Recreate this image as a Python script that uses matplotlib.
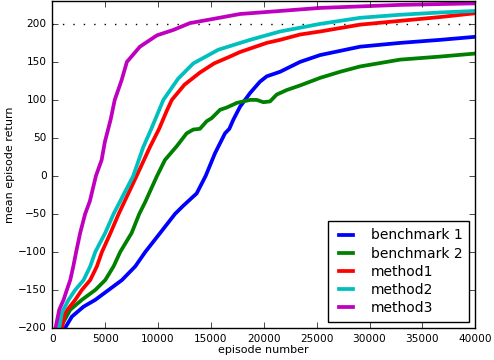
import matplotlib
matplotlib.use("Agg")
import matplotlib.pyplot as plt

plt.style.use("classic")

# values
ep_b1 = [1200, 1850, 2950, 4060, 5320, 6580, 7840, 8790, 10200, 11600, 12400, 13650,
         14500, 15390, 16330, 16740, 17120, 17750, 18700, 19640, 20280, 21540, 23430,
         25330, 29110, 32900, 36690, 40000]
ret_b1 = [-200, -185, -172, -163, -150, -137, -119, -100, -75, -50, -39, -23,
          0, 30, 56, 62, 74, 91, 109, 124, 131, 137, 150,
          159, 170, 175, 179, 183]

ep_b2 = [740, 1690, 2790, 4060, 5000, 5790, 6420, 7500, 8220, 8760, 9900, 10650,
         11760, 12700, 13330, 13960, 14600, 15070, 15860, 16500, 17440, 18060, 18700,
         19330, 19960, 20590, 21220, 22170, 23430, 25330, 27220, 29110, 32900, 36690,
         40000]
ret_b2 = [-200, -176, -163, -150, -137, -119, -100, -75, -50, -35, 0, 21,
          39, 56, 61, 62, 72, 76, 87, 90, 96, 98, 100,
          100, 97, 98, 107, 113, 119, 129, 137, 144, 153, 157,
          161]

ep_m1 = [900, 1210, 2160, 2790, 3580, 4210, 4690, 5500, 6270, 6880, 7970, 9230,
         10100, 10800, 11300, 12500, 13960, 15300, 16800, 17750, 20280, 21540, 23430,
         25330, 29110, 32900, 36690, 40000]
ret_m1 = [-200, -180, -163, -150, -137, -119, -100, -75, -50, -32, 0, 38,
          62, 85, 100, 120, 136, 148, 157, 163, 175, 179, 186,
          190, 199, 204, 209, 214]

ep_m2 = [650, 900, 1530, 2160, 2950, 3580, 4060, 5000, 5790, 7650, 8600,
         9300, 9900, 10500, 11900, 13330, 15700, 18700, 21540, 25330, 29110, 32900,
         36690, 40000]
ret_m2 = [-200, -180, -163, -150, -137, -119, -100, -75, -50, 0, 38,
          60, 80, 100, 128, 148, 166, 179, 190, 200, 208, 212,
          215, 217]

ep_m3 = [300, 650, 1060, 1370, 1690, 1980, 2250, 2630, 3100, 3550, 4120, 4660,
         4970, 5510, 5900, 6550, 7050, 8280, 9900, 11440, 13000, 15000, 17750, 21540,
         25330, 32900, 40000]
ret_m3 = [-200, -176, -163, -150, -137, -119, -100, -75, -50, -33, 0, 21,
          45, 74, 100, 126, 150, 170, 185, 192, 201, 206, 213, 217,
          221, 225, 227]

labels = ["benchmark 1", "benchmark 2", "method1", "method2", "method3"]
target = 200

fig = plt.figure(figsize=(4.94, 3.6), dpi=100, facecolor="white")
ax = fig.add_axes([0.106, 0.089, 0.856, 0.908])

ax.axhline(target, color="k", lw=1, linestyle=(0, (1, 6.5)))
for x, y, c, lab in zip([ep_b1, ep_b2, ep_m1, ep_m2, ep_m3],
                        [ret_b1, ret_b2, ret_m1, ret_m2, ret_m3],
                        ["b", "g", "r", "c", "m"], labels):
    ax.plot(x, y, color=c, lw=2.7, label=lab)

ax.set_xlim(0, 40000)
ax.set_ylim(-200, 230)
ax.set_yticks(range(-200, 201, 50))
ax.set_xticks(range(0, 40001, 5000))
ax.tick_params(labelsize=7.6)
ax.set_xlabel("episode number", fontsize=8, labelpad=1)
ax.set_ylabel("mean episode return", fontsize=8, labelpad=2)
ax.legend(loc="lower right", fontsize=10, frameon=True, fancybox=False,
          borderaxespad=0.43, borderpad=0.5, labelspacing=0.3,
          handlelength=1.6, handletextpad=1.0)

fig.savefig("out.png", dpi=100, facecolor="white")
